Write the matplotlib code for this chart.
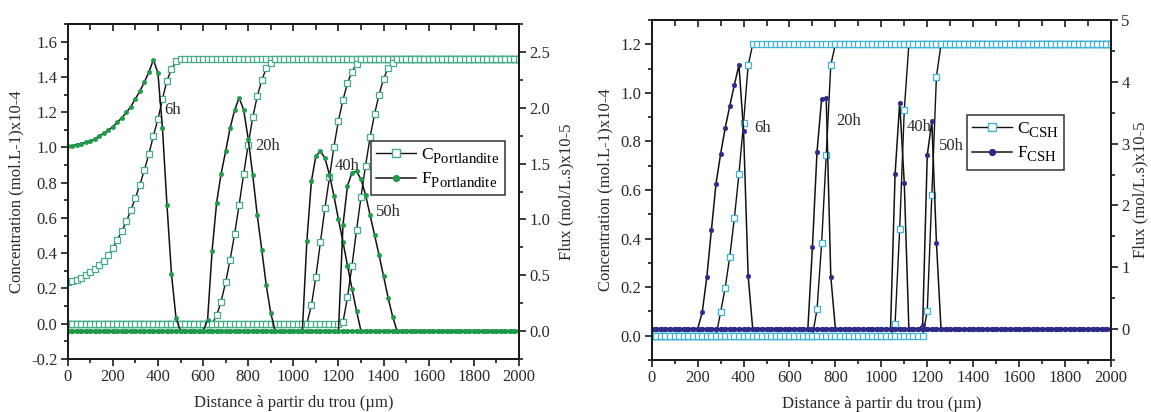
import numpy as np
import matplotlib
matplotlib.use('Agg')
import matplotlib.pyplot as plt
from matplotlib.lines import Line2D
from matplotlib.ticker import MultipleLocator, FormatStrFormatter

try:
    import matplotlib._mathtext as _mt
    _mt.SHRINK_FACTOR = 0.85
    _mt.FontConstantsBase.sub1 = 0.55
    _mt.FontConstantsBase.sub2 = 0.6
except Exception:
    pass

plt.rcParams['font.family'] = ['Liberation Serif', 'DejaVu Serif']
plt.rcParams['mathtext.fontset'] = 'custom'
plt.rcParams['mathtext.rm'] = 'Liberation Serif'
plt.rcParams['mathtext.it'] = 'Liberation Serif:italic'
plt.rcParams['mathtext.bf'] = 'Liberation Serif:bold'
plt.rcParams['axes.unicode_minus'] = False

# ---------------- data ----------------
distance = np.arange(0, 2001, 20)          # µm, 101 nodes
time_labels = ['6h', '20h', '40h', '50h']

# Portlandite concentration (mol/L x10-4)
c_port_6h = [0.236, 0.240, 0.249, 0.260, 0.277, 0.296, 0.311, 0.334, 0.358, 0.390,
             0.430, 0.477, 0.525, 0.580, 0.645, 0.713, 0.789, 0.872, 0.963, 1.067,
             1.160, 1.275, 1.378, 1.445, 1.488] + [1.5] * 76
c_port_20h = [0.0] * 33 + [0.047, 0.126, 0.236, 0.364, 0.51, 0.676, 0.85, 1.016,
                           1.17, 1.29, 1.38, 1.45, 1.48] + [1.5] * 55
c_port_40h = [0.0] * 54 + [0.104, 0.268, 0.462, 0.655, 0.83, 1.005, 1.152, 1.27,
                           1.365, 1.43, 1.476] + [1.5] * 36
c_port_50h = [0.0] * 61 + [0.01, 0.15, 0.33, 0.53, 0.72, 0.896, 1.057, 1.19, 1.30,
                           1.39, 1.45, 1.48] + [1.5] * 28

# Portlandite flux (mol/L.s x10-5)
f_port_6h = [1.66, 1.66, 1.67, 1.68, 1.69, 1.70, 1.72, 1.75, 1.77, 1.80, 1.83, 1.87,
             1.91, 1.96, 2.01, 2.08, 2.15, 2.23, 2.32, 2.43, 2.31, 1.82, 1.13, 0.51,
             0.12, 0.0] + [0.0] * 75
f_port_20h = [0.0] * 31 + [0.10, 0.72, 1.15, 1.41, 1.61, 1.82, 1.98, 2.09, 1.98, 1.72,
                           1.40, 1.04, 0.73, 0.41, 0.16] + [0.0] * 55
f_port_40h = [0.0] * 53 + [0.81, 1.34, 1.57, 1.61, 1.55, 1.40, 1.21, 1.0, 0.80, 0.585,
                           0.38, 0.18] + [0.0] * 36
f_port_50h = [0.0] * 61 + [0.95, 1.30, 1.42, 1.43, 1.36, 1.22, 1.04, 0.86, 0.68, 0.49,
                           0.30, 0.13] + [0.0] * 28

# CSH concentration
c_csh_6h = [0.0] * 15 + [0.096, 0.197, 0.326, 0.484, 0.667, 0.877, 1.113] + [1.2] * 79
c_csh_20h = [0.0] * 36 + [0.108, 0.38, 0.743, 1.115] + [1.2] * 61
c_csh_40h = [0.0] * 53 + [0.05, 0.44, 0.93] + [1.2] * 45
c_csh_50h = [0.0] * 60 + [0.10, 0.58, 1.067] + [1.2] * 38

# CSH flux
f_csh_6h = [0.0] * 11 + [0.27, 0.84, 1.60, 2.35, 2.83, 3.25, 3.61, 3.95, 4.27, 3.21,
                         0.86] + [0.0] * 79
f_csh_20h = [0.0] * 35 + [1.33, 2.87, 3.72, 3.74, 0.85] + [0.0] * 61
f_csh_40h = [0.0] * 53 + [2.51, 3.66, 2.36] + [0.0] * 45
f_csh_50h = [0.0] * 59 + [0.06, 2.81, 3.36, 1.40] + [0.0] * 38

# ---------------- style ----------------
LINE = '#111111'
TXT = '#2a2a2a'
PORT_SQ = '#45ad85'
PORT_CI = '#1f9c48'
CSH_SQ = '#3fb3d6'
CSH_CI = '#2d2a8a'
FS = 12

fig = plt.figure(figsize=(11.51, 4.12), dpi=100)
axL = fig.add_axes([0.0588, 0.1286, 0.3921, 0.8131])
axR = fig.add_axes([0.5662, 0.1262, 0.3990, 0.8253])


def style_axes(ax, ax2, ylim1, maj1, min1, ylim2, maj2, min2, fmt2, rpad):
    ax.set_xlim(0, 2000)
    ax.set_ylim(*ylim1)
    ax2.set_ylim(*ylim2)
    ax.xaxis.set_major_locator(MultipleLocator(200))
    ax.xaxis.set_minor_locator(MultipleLocator(100))
    ax.yaxis.set_major_locator(MultipleLocator(maj1))
    ax.yaxis.set_minor_locator(MultipleLocator(min1))
    ax.yaxis.set_major_formatter(FormatStrFormatter('%.1f'))
    ax2.yaxis.set_major_locator(MultipleLocator(maj2))
    ax2.yaxis.set_minor_locator(MultipleLocator(min2))
    ax2.yaxis.set_major_formatter(FormatStrFormatter(fmt2))
    for a in (ax, ax2):
        for s in a.spines.values():
            s.set_linewidth(1.3)
            s.set_color('#1a1a1a')
        a.tick_params(which='major', length=5, width=1.2, color='#1a1a1a',
                      labelsize=FS, labelcolor=TXT, direction='out', pad=2.5)
        a.tick_params(which='minor', length=3, width=1.2, color='#1a1a1a',
                      direction='out')
    top = ax.secondary_xaxis('top')
    top.xaxis.set_major_locator(MultipleLocator(200))
    top.xaxis.set_minor_locator(MultipleLocator(100))
    top.tick_params(which='both', direction='in', labeltop=False, width=1.2,
                    color='#1a1a1a')
    top.tick_params(which='major', length=5)
    top.tick_params(which='minor', length=4)
    top.spines['top'].set_linewidth(1.3)
    ax.set_xlabel('Distance à partir du trou (µm)', fontsize=FS, color=TXT, labelpad=7)
    ax.set_ylabel('Concentration (mol.L-1)x10-4', fontsize=FS, color=TXT, labelpad=5)
    ax2.set_ylabel('Flux (mol/L.s)x10-5', fontsize=FS, color=TXT, labelpad=rpad)


def add_legend(ax2, handles, labels, anchor):
    leg = ax2.legend(handles, labels, loc='upper left', bbox_to_anchor=anchor,
                     borderaxespad=0, fontsize=12.5, handlelength=2.3,
                     handletextpad=0.3, borderpad=0.3, labelspacing=0.3,
                     fancybox=False, framealpha=1, edgecolor='#333333')
    leg.get_frame().set_linewidth(1.1)
    return leg


# ---------- left panel ----------
axL2 = axL.twinx()
for c in (c_port_6h, c_port_20h, c_port_40h, c_port_50h):
    axL.plot(distance, c, '-', color=LINE, lw=1.0, marker='s', ms=4.6,
             mfc='white', mec=PORT_SQ, mew=0.9)
for f in (f_port_6h, f_port_20h, f_port_40h, f_port_50h):
    axL2.plot(distance, f, '-', color=LINE, lw=1.1, marker='o', ms=3.3,
              mfc=PORT_CI, mec=PORT_CI, mew=0.3)
style_axes(axL, axL2, (-0.2, 1.7), 0.2, 0.1, (-0.25, 2.75), 0.5, 0.25, '%.1f', 6)
for lab, (x, y) in zip(time_labels, [(430, 1.21), (832, 1.01), (1182, 0.895), (1365, 0.635)]):
    axL.text(x, y, lab, fontsize=12, color=TXT, ha='left', va='center')
hL = [Line2D([], [], color=LINE, lw=1.0, marker='s', ms=5.5, mfc='white', mec=PORT_SQ, mew=1.0),
      Line2D([], [], color=LINE, lw=1.1, marker='o', ms=4.2, mfc=PORT_CI, mec=PORT_CI)]
add_legend(axL2, hL, [r'C$_{\mathrm{Portlandite}}$', r'F$_{\mathrm{Portlandite}}$'],
           (0.672, 0.651))

# ---------- right panel ----------
axR2 = axR.twinx()
for c in (c_csh_6h, c_csh_20h, c_csh_40h, c_csh_50h):
    axR.plot(distance, c, '-', color=LINE, lw=1.0, marker='s', ms=4.6,
             mfc='white', mec=CSH_SQ, mew=0.9)
for f in (f_csh_6h, f_csh_20h, f_csh_40h, f_csh_50h):
    axR2.plot(distance, f, '-', color=LINE, lw=1.1, marker='o', ms=3.4,
              mfc=CSH_CI, mec=CSH_CI, mew=0.3)
style_axes(axR, axR2, (-0.1, 1.3), 0.2, 0.1, (-0.5, 5.0), 1, 0.5, '%d', 2)
for lab, (x, y) in zip(time_labels, [(447, 0.856), (805, 0.884), (1110, 0.86), (1252, 0.78)]):
    axR.text(x, y, lab, fontsize=12, color=TXT, ha='left', va='center')
hR = [Line2D([], [], color=LINE, lw=1.0, marker='s', ms=5.5, mfc='white', mec=CSH_SQ, mew=1.0),
      Line2D([], [], color=LINE, lw=1.1, marker='o', ms=4.2, mfc=CSH_CI, mec=CSH_CI)]
add_legend(axR2, hR, [r'C$_{\mathrm{CSH}}$', r'F$_{\mathrm{CSH}}$'], (0.686, 0.72))

fig.savefig('out.png', dpi=100, facecolor='white')
